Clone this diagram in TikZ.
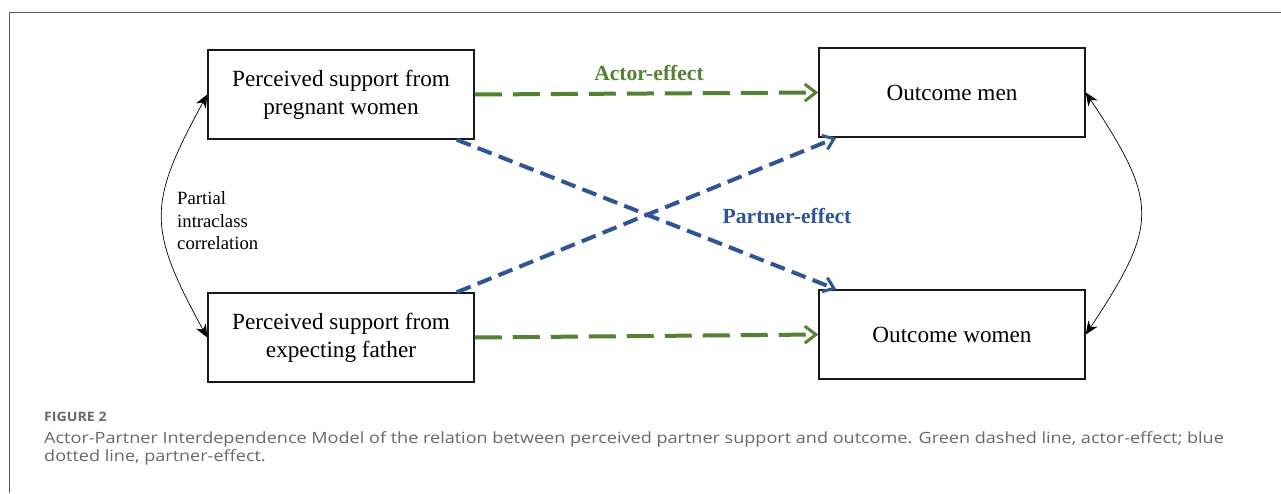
\documentclass[tikz,border=0pt]{standalone}
\usepackage{fontspec}
\setmainfont{Liberation Serif}
\newfontfamily\capfont{Open Sans}
\usetikzlibrary{arrows.meta}
\definecolor{actgreen}{RGB}{84,130,53}
\definecolor{partblue}{RGB}{47,85,151}
\definecolor{capgray}{RGB}{105,105,105}
\definecolor{framegray}{RGB}{90,90,90}
\begin{document}
\begin{tikzpicture}[x=1pt,y=-1pt,
  box/.style={draw=black!90, line width=1.5pt, minimum width=266pt, minimum height=89pt,
    inner sep=0pt, align=center, font=\fontsize{23.2}{28}\selectfont},
  actor/.style={draw=actgreen, line width=4pt, dash pattern=on 27pt off 11pt,
    -{Straight Barb[length=11pt,width=17pt,line width=3pt]}},
  partner/.style={draw=partblue, line width=4pt, dash pattern=on 15pt off 7.5pt,
    -{Straight Barb[length=10pt,width=15pt,line width=3pt]}},
  corr/.style={draw=black, line width=0.7pt,
    {Stealth[length=13pt,width=11pt,inset=4pt]}-{Stealth[length=13pt,width=11pt,inset=4pt]}},
  efflabel/.style={font=\fontsize{21.6}{26}\selectfont\bfseries, inner sep=0pt},
  captext/.style={font=\capfont\fontsize{15.5}{18}\selectfont, text=capgray, inner sep=0pt, anchor=base west}
]
\useasboundingbox (0,0) rectangle (1281,493);
\fill[white] (0,0) rectangle (1281,493);
\draw[framegray, line width=1pt] (9.5,493) -- (9.5,12.5) -- (1281,12.5);

\node[box] (A) at (341,94.5) {Perceived support from\\pregnant women};
\node[box] (B) at (341,337.5) {Perceived support from\\expecting father};
\node[box] (C) at (952,92.5) {Outcome men};
\node[box] (D) at (952,334.5) {Outcome women};

\draw[actor] (A.east) -- (C.west);
\draw[actor] (B.east) -- (D.west);
\draw[partner] ([xshift=-18pt]A.south east) -- ([xshift=18pt]D.north west);
\draw[partner] ([xshift=-18pt]B.north east) -- ([xshift=18pt]C.south west);

\draw[corr] (A.west) .. controls +(-60,110) and +(-60,-110) .. (B.west);
\draw[corr] (C.east) .. controls +(73,110) and +(73,-110) .. (D.east);

\node[efflabel, text=actgreen] (actlab) at (649,73) {Actor-effect};
\node[efflabel, text=partblue] (partlab) at (787,216) {Partner-effect};
\node[anchor=west, align=left, inner sep=0pt, font=\fontsize{18.7}{22.5}\selectfont] (pic) at (177,221)
  {Partial\\intraclass\\correlation};

\node[captext, font=\capfont\bfseries\fontsize{13}{16}\selectfont] (fig) at (44,421) {\scalebox{1.09}[1]{FIGURE 2}};
\node[captext] (cap1) at (44,443) {\scalebox{1.165}[1]{Actor-Partner Interdependence Model of the relation between perceived partner support and outcome. Green dashed line, actor-effect; blue}};
\node[captext] (cap2) at (44,461) {\scalebox{1.165}[1]{dotted line, partner-effect.}};
\end{tikzpicture}
\end{document}
